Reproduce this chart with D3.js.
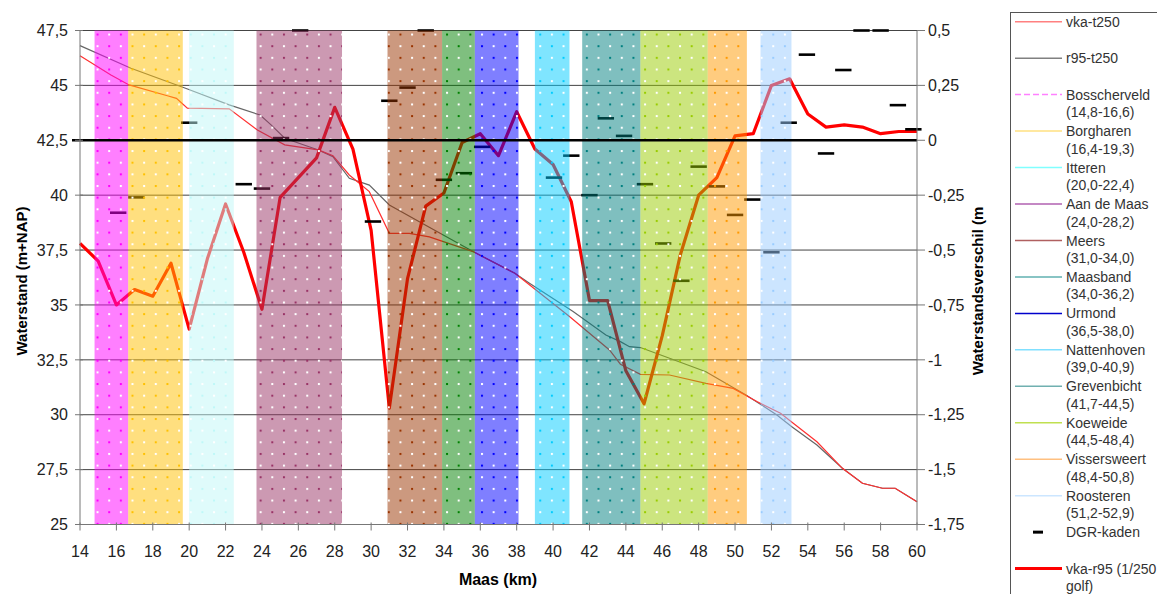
<!DOCTYPE html>
<html>
<head>
<meta charset="utf-8">
<script src="https://cdn.jsdelivr.net/npm/d3@7"></script>
<style>
  body { margin: 0; background: #fff; }
  svg { display: block; font-family: "Liberation Sans", Arial, sans-serif; }
</style>
</head>
<body>
<svg id="chart" width="1157" height="594"></svg>
<script>
// tick labels
const kmTicks = [14, 16, 18, 20, 22, 24, 26, 28, 30, 32, 34, 36, 38, 40, 42, 44, 46, 48, 50, 52, 54, 56, 58, 60]
const leftTicks = [25, 27.5, 30, 32.5, 35, 37.5, 40, 42.5, 45, 47.5]
const rightTicks = [-1.75, -1.5, -1.25, -1, -0.75, -0.5, -0.25, 0, 0.25, 0.5]

// vka-t250 (m+NAP)
const vkaT250Km = [14, 15.7, 16.7, 18.8, 19.3, 19.9, 22.2, 23.75, 25.25, 27.1, 27.9, 28.8, 29.9, 31.0, 32.1, 33.2, 35.6, 37.9, 40.9, 43.1, 43.7, 44.8, 46.4, 48.4, 49.9, 51.2, 52.5, 53.2, 54.5, 55.9, 57.0, 58.1, 58.8, 60]
const vkaT250 = [46.35, 45.47, 45.02, 44.53, 44.41, 43.96, 43.93, 42.97, 42.29, 42.06, 41.8, 40.92, 40.16, 38.26, 38.26, 38.1, 37.43, 36.44, 34.47, 32.95, 32.3, 31.84, 31.81, 31.43, 31.2, 30.6, 30.07, 29.61, 28.77, 27.56, 26.88, 26.65, 26.65, 26.04]

// r95-t250 (m+NAP)
const r95T250Km = [14, 16.8, 19.8, 22.2, 23.9, 24.5, 25.25, 27.1, 27.9, 28.8, 29.9, 31.0, 32.65, 35.6, 37.9, 38.7, 41.1, 42.9, 43.7, 44.2, 44.8, 46.4, 48.4, 50.6, 52.3, 53.1, 54.5, 55.9, 57.0, 58.1, 58.8, 60]
const r95T250 = [46.81, 45.78, 44.87, 44.11, 43.65, 43.2, 42.59, 42.06, 41.75, 40.77, 40.46, 39.55, 38.79, 37.43, 36.44, 35.99, 34.7, 33.63, 33.33, 33.1, 33.06, 32.57, 31.96, 30.9, 29.99, 29.46, 28.62, 27.56, 26.88, 26.65, 26.65, 26.04]

// vka-r95 (1/250 golf), verschil (m)
const vkaR95Km = [14, 15, 16, 17, 18, 19, 20, 21, 22, 23, 24, 25, 26, 27, 28, 29, 30, 31, 32, 33, 34, 35, 36, 37, 38, 39, 40, 41, 42, 43, 44, 45, 46, 47, 48, 49, 50, 51, 52, 53, 54, 55, 56, 57, 58, 59, 60]
const vkaR95 = [-0.47, -0.55, -0.75, -0.68, -0.71, -0.56, -0.86, -0.54, -0.29, -0.51, -0.77, -0.26, -0.17, -0.08, 0.15, -0.04, -0.41, -1.22, -0.63, -0.3, -0.24, -0.01, 0.03, -0.07, 0.13, -0.04, -0.11, -0.28, -0.73, -0.73, -1.05, -1.2, -0.89, -0.52, -0.25, -0.17, 0.02, 0.03, 0.25, 0.28, 0.12, 0.06, 0.07, 0.06, 0.03, 0.04, 0.04]

// DGR-kaden (m)
const dgrKm = [16.1, 17.1, 20.0, 23.0, 24.0, 25.05, 26.1, 30.1, 31.0, 32.0, 33.0, 34.0, 35.1, 36.1, 40.05, 41.0, 42.0, 42.9, 43.9, 45.05, 46.05, 47.05, 48.0, 49.0, 50.0, 50.95, 52.0, 52.95, 53.95, 55.0, 55.95, 56.95, 58.0, 58.95, 59.8]
const dgrVal = [-0.33, -0.26, 0.08, -0.2, -0.22, 0.01, 0.5, -0.37, 0.18, 0.24, 0.5, -0.18, -0.15, -0.03, -0.17, -0.07, -0.25, 0.1, 0.02, -0.2, -0.47, -0.64, -0.12, -0.21, -0.34, -0.27, -0.51, 0.08, 0.39, -0.06, 0.32, 0.5, 0.5, 0.16, 0.05]

// trajecten
const bandNames = ['Bosscherveld', 'Borgharen', 'Itteren', 'Aan de Maas', 'Meers', 'Maasband', 'Urmond', 'Nattenhoven', 'Grevenbicht', 'Koeweide', 'Visserswee\u0072t', 'Roosteren']
const bandLabels = ['(14,8-16,6)', '(16,4-19,3)', '(20,0-22,4)', '(24,0-28,2)', '(31,0-34,0)', '(34,0-36,2)', '(36,5-38,0)', '(39,0-40,9)', '(41,7-44,5)', '(44,5-48,4)', '(48,4-50,8)', '(51,2-52,9)']
const bandStart = [14.8, 16.65, 20.0, 23.7, 30.9, 33.9, 35.7, 39.0, 41.6, 44.8, 48.5, 51.4]
const bandEnd = [16.65, 19.65, 22.45, 28.4, 33.9, 35.7, 38.1, 40.9, 44.8, 48.5, 50.65, 53.1]

const bandColors = ['#ff00ff', '#ffc000', '#bff8f8', '#993366', '#993300', '#008000', '#0000ff', '#00ccff', '#008080', '#99cc00', '#ff9900', '#99ccff']
const legendLineColors = ['#ff80ff', '#ffe080', '#80ffff', '#b060b0', '#b06060', '#60b0b0', '#0000cc', '#80e0ff', '#70b0b0', '#c0e050', '#ffc080', '#cce6ff']

const svg = d3.select('#chart')
const plot = { left: 80, right: 917, top: 30.5, bottom: 524.5 }

const x = d3.scaleLinear().domain([14, 60]).range([plot.left, plot.right])
const yL = d3.scaleLinear().domain([25, 47.5]).range([plot.bottom, plot.top])
const yR = d3.scaleLinear().domain([-1.75, 0.5]).range([plot.bottom, plot.top])

svg.append('rect').attr('width', 1157).attr('height', 594).attr('fill', '#fff')

// dot patterns for the bands
const defs = svg.append('defs')
const step = 11.65
bandColors.forEach((c, i) => {
    const p = defs.append('pattern')
        .attr('id', 'dots' + i)
        .attr('patternUnits', 'userSpaceOnUse')
        .attr('x', 481).attr('y', 185)
        .attr('width', step * 2).attr('height', step * 2)
    p.append('rect').attr('x', 0).attr('y', 0).attr('width', 2).attr('height', 2).attr('fill', c)
    p.append('rect').attr('x', step).attr('y', step).attr('width', 2).attr('height', 2).attr('fill', c)
    p.append('rect').attr('x', step).attr('y', 0).attr('width', 2).attr('height', 2).attr('fill', '#fff')
    p.append('rect').attr('x', 0).attr('y', step).attr('width', 2).attr('height', 2).attr('fill', '#fff')
})

// gridlines
svg.append('g')
    .selectAll('line')
    .data(leftTicks)
    .join('line')
    .attr('x1', plot.left).attr('x2', plot.right)
    .attr('y1', d => yL(d)).attr('y2', d => yL(d))
    .attr('stroke', '#444').attr('stroke-width', 1)

// thin lines on left axis
const lineL = (ks, vs) => d3.line().x((d, i) => x(ks[i])).y(d => yL(d))(vs)
svg.append('path')
    .attr('d', lineL(r95T250Km, r95T250))
    .attr('fill', 'none').attr('stroke', '#666').attr('stroke-width', 1.2)
svg.append('path')
    .attr('d', lineL(vkaT250Km, vkaT250))
    .attr('fill', 'none').attr('stroke', '#ff3030').attr('stroke-width', 1.2)

// difference line on right axis
svg.append('path')
    .attr('d', d3.line().x((d, i) => x(vkaR95Km[i])).y(d => yR(d))(vkaR95))
    .attr('fill', 'none').attr('stroke', '#ff0000').attr('stroke-width', 3.2)
    .attr('stroke-linejoin', 'round')

// DGR-kaden markers
svg.append('g')
    .selectAll('line')
    .data(dgrVal)
    .join('line')
    .attr('x1', (d, i) => x(dgrKm[i] - 0.45)).attr('x2', (d, i) => x(dgrKm[i] + 0.45))
    .attr('y1', d => yR(d)).attr('y2', d => yR(d))
    .attr('stroke', '#000').attr('stroke-width', 2.6)

// bands (drawn over the series, semi transparent)
const bands = svg.append('g')
bandColors.forEach((c, i) => {
    bands.append('rect')
        .attr('x', x(bandStart[i])).attr('y', plot.top)
        .attr('width', x(bandEnd[i]) - x(bandStart[i])).attr('height', plot.bottom - plot.top)
        .attr('fill', c).attr('fill-opacity', 0.5)
    bands.append('rect')
        .attr('x', x(bandStart[i])).attr('y', plot.top)
        .attr('width', x(bandEnd[i]) - x(bandStart[i])).attr('height', plot.bottom - plot.top)
        .attr('fill', `url(#dots${i})`)
})

// zero line
svg.append('line')
    .attr('x1', plot.left - 8).attr('x2', plot.right)
    .attr('y1', yR(0)).attr('y2', yR(0))
    .attr('stroke', '#000').attr('stroke-width', 2.6)

// axes
const axisColor = '#777'
const ax = svg.append('g').attr('font-size', 16).attr('fill', '#222')

ax.append('line').attr('x1', plot.left).attr('x2', plot.left).attr('y1', plot.top).attr('y2', plot.bottom).attr('stroke', axisColor)
ax.append('line').attr('x1', plot.right).attr('x2', plot.right).attr('y1', plot.top).attr('y2', plot.bottom).attr('stroke', axisColor)
ax.append('line').attr('x1', plot.left).attr('x2', plot.right).attr('y1', plot.bottom).attr('y2', plot.bottom).attr('stroke', axisColor)

const fmt = d => String(d).replace('.', ',')

ax.selectAll('.tl').data(leftTicks).join('line')
    .attr('x1', plot.left - 5).attr('x2', plot.left + 3)
    .attr('y1', d => yL(d)).attr('y2', d => yL(d)).attr('stroke', axisColor)
ax.selectAll('.ll').data(leftTicks).join('text')
    .attr('x', plot.left - 12).attr('y', d => yL(d)).attr('dy', '0.36em')
    .attr('text-anchor', 'end').text(fmt)

ax.selectAll('.tr').data(rightTicks).join('line')
    .attr('x1', plot.right).attr('x2', plot.right + 8)
    .attr('y1', d => yR(d)).attr('y2', d => yR(d)).attr('stroke', axisColor)
ax.selectAll('.lr').data(rightTicks).join('text')
    .attr('x', plot.right + 11).attr('y', d => yR(d)).attr('dy', '0.36em')
    .attr('text-anchor', 'start').text(fmt)

ax.selectAll('.tx').data(kmTicks).join('line')
    .attr('x1', d => x(d)).attr('x2', d => x(d))
    .attr('y1', plot.bottom - 2).attr('y2', plot.bottom + 6).attr('stroke', axisColor)
ax.selectAll('.lx').data(kmTicks).join('text')
    .attr('x', d => x(d)).attr('y', 557)
    .attr('text-anchor', 'middle').text(d => d)

// axis titles
svg.append('text')
    .attr('transform', 'translate(27,281) rotate(-90)')
    .attr('text-anchor', 'middle').attr('font-weight', 'bold').attr('font-size', 15)
    .text('Waterstand (m+NAP)')
svg.append('text')
    .attr('transform', 'translate(983,291) rotate(-90)')
    .attr('text-anchor', 'middle').attr('font-weight', 'bold').attr('font-size', 15)
    .text('Waterstandsverschil (m')
svg.append('text')
    .attr('x', 498).attr('y', 585)
    .attr('text-anchor', 'middle').attr('font-weight', 'bold').attr('font-size', 16)
    .text('Maas (km)')

// legend
const lg = svg.append('g').attr('font-size', 14).attr('fill', '#333')
lg.append('rect').attr('x', 1010.5).attr('y', 12.5).attr('width', 200).attr('height', 620)
    .attr('fill', '#fff').attr('stroke', '#555')

const legendNames = ['vka-t250', 'r95-t250', ...bandNames, 'DGR-kaden', 'vka-r95 (1/250']
const legendSub = ['', '', ...bandLabels, '', 'golf)']
const legendColors = ['#ff8080', '#808080', ...legendLineColors, '#000', '#ff0000']
const rowY = i => 21.7 + i * 36.46

legendNames.forEach((name, i) => {
    const yy = rowY(i)
    if (name === 'DGR-kaden') {
        lg.append('line').attr('x1', 1033).attr('x2', 1043).attr('y1', yy).attr('y2', yy)
            .attr('stroke', '#000').attr('stroke-width', 3)
    } else {
        const l = lg.append('line').attr('x1', 1015).attr('x2', 1062).attr('y1', yy).attr('y2', yy)
            .attr('stroke', legendColors[i])
            .attr('stroke-width', i === legendNames.length - 1 ? 3 : 1.5)
        if (name === 'Bosscherveld') l.attr('stroke-dasharray', '6,3')
    }
    lg.append('text').attr('x', 1066).attr('y', yy).attr('dy', '0.36em').text(name)
    if (legendSub[i]) lg.append('text').attr('x', 1066).attr('y', yy + 17.5).attr('dy', '0.36em').text(legendSub[i])
})
</script>
</body>
</html>
